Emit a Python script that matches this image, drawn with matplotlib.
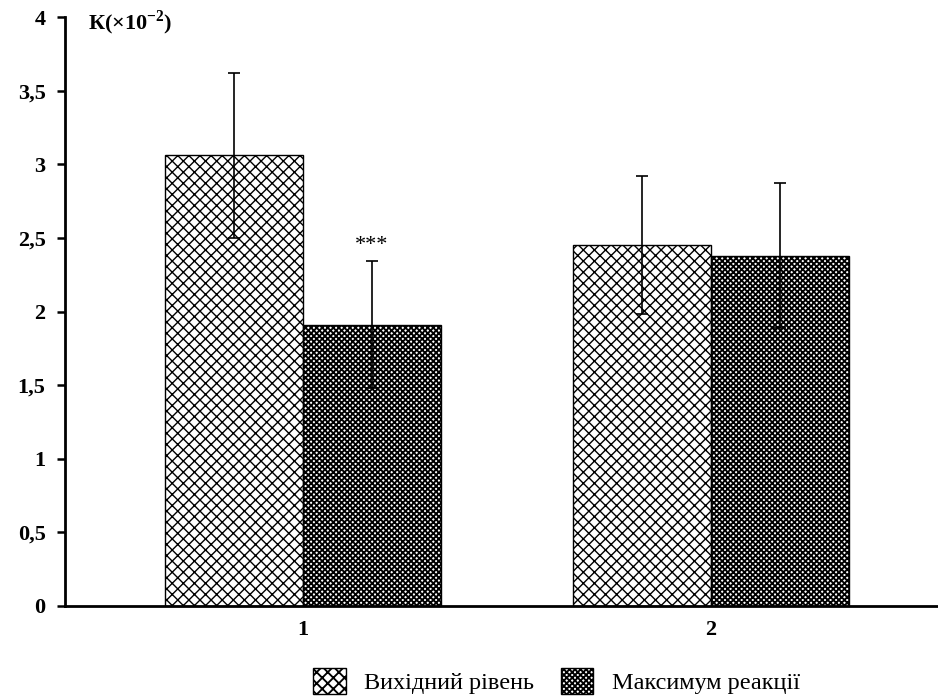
import matplotlib
matplotlib.use("Agg")
import matplotlib.pyplot as plt
import numpy as np

groups = ["1", "2"]
series_names = ["Вихідний рівень", "Максимум реакції"]
baseline = [3.06, 2.45]
baseline_err = [0.56, 0.47]
maximum = [1.91, 2.38]
maximum_err = [0.43, 0.49]
yticks = [0, 0.5, 1, 1.5, 2, 2.5, 3, 3.5, 4]
ytick_labels = ["0", "0,5", "1", "1,5", "2", "2,5", "3", "3,5", "4"]

plt.rcParams['font.family'] = ['Liberation Serif', 'DejaVu Serif']
plt.rcParams['mathtext.fontset'] = 'custom'
plt.rcParams['mathtext.rm'] = 'Liberation Serif'
plt.rcParams['mathtext.bf'] = 'Liberation Serif:bold'

fig = plt.figure(figsize=(9.38, 7.0), dpi=100)
ax = fig.add_axes([0.0693, 0.1343, 0.9307, 0.8414])

x = np.arange(len(groups))
w = 0.338
plt.rcParams['hatch.linewidth'] = 1.0
b1 = ax.bar(x - w / 2, baseline, w, facecolor='white', edgecolor='black',
            hatch='xxx', linewidth=1.0, label=series_names[0], zorder=2)
plt.rcParams['hatch.linewidth'] = 1.35
b2 = ax.bar(x + w / 2, maximum, w, facecolor='white', edgecolor='black',
            hatch='xxxxxx', linewidth=1.0, label=series_names[1], zorder=2)
ax.errorbar(x - w / 2, baseline, yerr=baseline_err, fmt='none', ecolor='black',
            elinewidth=1.2, capsize=4.5, capthick=1.2, zorder=3)
ax.errorbar(x + w / 2, maximum, yerr=maximum_err, fmt='none', ecolor='black',
            elinewidth=1.2, capsize=4.5, capthick=1.2, zorder=3)

ax.text(x[0] + w / 2, maximum[0] + maximum_err[0] + 0.11, "***",
        ha='center', va='center', fontsize=16)

ax.set_xlim(-0.583, 1.556)
ax.set_ylim(0, 4)
ax.set_yticks(yticks)
ax.set_yticklabels(ytick_labels, fontsize=16, fontweight='bold')
ax.set_xticks(x)
ax.set_xticklabels(groups, fontsize=16, fontweight='bold')
ax.tick_params(axis='x', length=0, pad=10)
ax.tick_params(axis='y', length=6, width=1.8, direction='out', pad=8)
for s in ['top', 'right']:
    ax.spines[s].set_visible(False)
ax.spines['left'].set_linewidth(2)
ax.spines['bottom'].set_linewidth(2)

ax.text(0.026, 0.99, r"К(×10$^{\mathbf{-2}}$)", transform=ax.transAxes,
        fontsize=16, fontweight='bold', ha='left', va='center')

fig.legend(handles=[b1, b2], loc='center', bbox_to_anchor=(0.593, 0.027),
           ncol=2, frameon=False, fontsize=17.5, handlelength=1.35,
           handleheight=1.3, columnspacing=1.1, handletextpad=0.75,
           borderpad=0.2)

fig.savefig("out.png", dpi=100)
